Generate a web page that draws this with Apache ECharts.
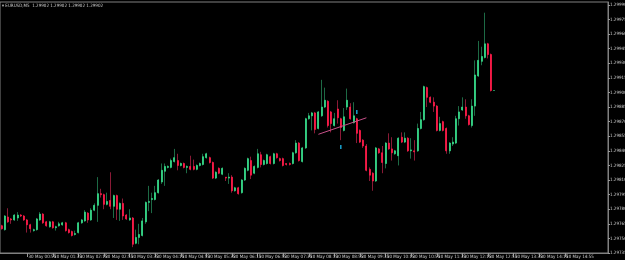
<!DOCTYPE html>
<html>
<head>
<meta charset="utf-8">
<script src="https://cdn.jsdelivr.net/npm/echarts@6/dist/echarts.min.js"></script>
<style>
  html, body { margin: 0; padding: 0; background: #000; }
  #chart { width: 625px; height: 260px; }
</style>
</head>
<body>
<div id="chart"></div>
<script>
// EURUSD M5, 30 May 2013 - bars from 00:15
var symbolName = 'EURUSD,M5'
var lastPrice = 1.29902
var startMinute = 15 // 00:15
var slotCount = 190 // bars that fit the window incl. empty space on the right

var opens = [1.29763,1.29759,1.29772,1.29770,1.29769,1.29771,1.29774,1.29773,1.29769,1.29764,
  1.29758,1.29759,1.29769,1.29775,1.29767,1.29762,1.29767,1.29761,1.29763,1.29764,
  1.29766,1.29759,1.29757,1.29754,1.29756,1.29766,1.29768,1.29776,1.29769,1.29779,
  1.29784,1.29796,1.29795,1.29785,1.29789,1.29783,1.29794,1.29780,1.29786,1.29774,
  1.29769,1.29771,1.29745,1.29751,1.29753,1.29767,1.29787,1.29790,1.29790,1.29797,
  1.29808,1.29819,1.29823,1.29823,1.29829,1.29830,1.29825,1.29827,1.29823,1.29824,
  1.29824,1.29821,1.29825,1.29826,1.29833,1.29833,1.29828,1.29812,1.29822,1.29816,
  1.29813,1.29812,1.29813,1.29799,1.29802,1.29797,1.29810,1.29820,1.29830,1.29817,
  1.29823,1.29836,1.29826,1.29827,1.29834,1.29827,1.29837,1.29832,1.29832,1.29827,
  1.29827,1.29827,1.29838,1.29848,1.29829,1.29843,1.29873,1.29876,1.29879,1.29863,
  1.29876,1.29885,1.29891,1.29880,1.29866,1.29883,1.29873,1.29861,1.29885,1.29885,
  1.29869,1.29873,1.29861,1.29851,1.29845,1.29821,1.29817,1.29809,1.29842,1.29838,
  1.29827,1.29848,1.29842,1.29837,1.29835,1.29854,1.29849,1.29853,1.29840,1.29840,
  1.29840,1.29863,1.29872,1.29905,1.29895,1.29890,1.29886,1.29861,1.29870,1.29863,
  1.29840,1.29847,1.29848,1.29873,1.29882,1.29885,1.29876,1.29866,1.29886,1.29917,
  1.29932,1.29936,1.29950,1.29939,1.29902]
var closes = [1.29760,1.29773,1.29767,1.29769,1.29774,1.29774,1.29773,1.29769,1.29764,1.29760,
  1.29759,1.29770,1.29775,1.29766,1.29763,1.29767,1.29761,1.29762,1.29765,1.29766,
  1.29758,1.29756,1.29753,1.29755,1.29766,1.29769,1.29777,1.29769,1.29779,1.29784,
  1.29796,1.29795,1.29785,1.29788,1.29783,1.29794,1.29780,1.29786,1.29773,1.29770,
  1.29771,1.29744,1.29751,1.29754,1.29768,1.29787,1.29788,1.29791,1.29797,1.29810,
  1.29820,1.29824,1.29824,1.29830,1.29833,1.29825,1.29827,1.29823,1.29824,1.29821,
  1.29821,1.29825,1.29827,1.29834,1.29837,1.29828,1.29812,1.29818,1.29817,1.29822,
  1.29812,1.29813,1.29799,1.29802,1.29796,1.29810,1.29822,1.29832,1.29815,1.29824,
  1.29837,1.29826,1.29830,1.29836,1.29827,1.29837,1.29833,1.29830,1.29825,1.29826,
  1.29826,1.29838,1.29848,1.29830,1.29843,1.29873,1.29876,1.29879,1.29862,1.29880,
  1.29885,1.29892,1.29866,1.29868,1.29873,1.29874,1.29864,1.29875,1.29892,1.29873,
  1.29876,1.29858,1.29849,1.29845,1.29820,1.29815,1.29809,1.29843,1.29838,1.29828,
  1.29848,1.29842,1.29838,1.29840,1.29853,1.29849,1.29853,1.29840,1.29841,1.29839,
  1.29863,1.29872,1.29906,1.29895,1.29890,1.29886,1.29861,1.29868,1.29861,1.29840,
  1.29848,1.29849,1.29873,1.29880,1.29885,1.29876,1.29867,1.29886,1.29918,1.29933,
  1.29937,1.29950,1.29939,1.29902,1.29902]
var highs = [1.29764,1.29774,1.29781,1.29771,1.29775,1.29777,1.29775,1.29774,1.29770,1.29765,
  1.29760,1.29771,1.29777,1.29776,1.29768,1.29768,1.29768,1.29763,1.29767,1.29767,
  1.29767,1.29760,1.29758,1.29758,1.29767,1.29770,1.29779,1.29777,1.29781,1.29786,
  1.29813,1.29801,1.29796,1.29797,1.29818,1.29795,1.29795,1.29787,1.29791,1.29775,
  1.29780,1.29772,1.29759,1.29765,1.29771,1.29788,1.29804,1.29797,1.29804,1.29811,
  1.29827,1.29827,1.29825,1.29832,1.29842,1.29837,1.29828,1.29828,1.29825,1.29835,
  1.29831,1.29826,1.29828,1.29837,1.29838,1.29834,1.29829,1.29819,1.29823,1.29823,
  1.29813,1.29817,1.29815,1.29803,1.29803,1.29811,1.29823,1.29833,1.29834,1.29825,
  1.29842,1.29839,1.29831,1.29837,1.29835,1.29838,1.29838,1.29833,1.29833,1.29827,
  1.29828,1.29839,1.29851,1.29849,1.29844,1.29874,1.29879,1.29880,1.29880,1.29881,
  1.29913,1.29905,1.29892,1.29881,1.29879,1.29892,1.29874,1.29884,1.29904,1.29889,
  1.29890,1.29874,1.29862,1.29852,1.29847,1.29823,1.29818,1.29844,1.29843,1.29845,
  1.29849,1.29858,1.29854,1.29841,1.29854,1.29859,1.29859,1.29854,1.29853,1.29851,
  1.29868,1.29880,1.29907,1.29906,1.29896,1.29895,1.29887,1.29875,1.29871,1.29864,
  1.29849,1.29854,1.29876,1.29886,1.29895,1.29893,1.29877,1.29893,1.29933,1.29953,
  1.29947,1.29982,1.29951,1.29940,1.29902]
var lows = [1.29759,1.29758,1.29766,1.29765,1.29768,1.29768,1.29772,1.29768,1.29756,1.29756,
  1.29757,1.29758,1.29768,1.29765,1.29762,1.29761,1.29760,1.29758,1.29762,1.29763,
  1.29757,1.29755,1.29752,1.29753,1.29755,1.29765,1.29767,1.29766,1.29768,1.29778,
  1.29767,1.29792,1.29780,1.29784,1.29780,1.29771,1.29769,1.29768,1.29769,1.29769,
  1.29768,1.29741,1.29744,1.29744,1.29752,1.29765,1.29778,1.29776,1.29789,1.29796,
  1.29806,1.29804,1.29822,1.29822,1.29828,1.29820,1.29824,1.29822,1.29817,1.29820,
  1.29820,1.29820,1.29824,1.29825,1.29832,1.29827,1.29811,1.29811,1.29816,1.29815,
  1.29809,1.29806,1.29797,1.29798,1.29795,1.29796,1.29809,1.29819,1.29811,1.29816,
  1.29822,1.29823,1.29825,1.29826,1.29826,1.29826,1.29832,1.29829,1.29824,1.29825,
  1.29825,1.29826,1.29837,1.29829,1.29828,1.29842,1.29872,1.29861,1.29858,1.29862,
  1.29875,1.29884,1.29864,1.29859,1.29865,1.29868,1.29851,1.29860,1.29882,1.29872,
  1.29868,1.29848,1.29848,1.29843,1.29819,1.29809,1.29799,1.29808,1.29837,1.29817,
  1.29822,1.29841,1.29830,1.29836,1.29825,1.29848,1.29848,1.29839,1.29832,1.29830,
  1.29839,1.29862,1.29871,1.29885,1.29889,1.29880,1.29860,1.29860,1.29860,1.29837,
  1.29837,1.29845,1.29847,1.29866,1.29881,1.29873,1.29866,1.29864,1.29876,1.29916,
  1.29928,1.29935,1.29935,1.29901,1.29902]

// trend line object (bar index, price)
var trendIdx = [99, 114]
var trendPrice = [1.29857, 1.29874]
// small cyan arrow objects
var arrowIdx = [106, 111]
var arrowPrice = [1.29844, 1.29880]

// price scale
var priceMin = 1.29735
var priceMax = 1.29993
var priceStep = 0.00015

function pad(n) { return n < 10 ? '0' + n : '' + n }

var cats = []
for (var i = 0; i < slotCount; i++) {
  var m = startMinute + i * 5
  cats.push(pad(Math.floor(m / 60) % 24) + ':' + pad(m % 60))
}

var wickData = []
var bodyData = []
for (var k = 0; k < opens.length; k++) {
  wickData.push([opens[k], closes[k], lows[k], highs[k]])
  bodyData.push([opens[k], closes[k], Math.min(opens[k], closes[k]), Math.max(opens[k], closes[k])])
}

var arrows = []
for (var a = 0; a < arrowIdx.length; a++) arrows.push([arrowIdx[a], arrowPrice[a]])

var green = '#36d888'
var red = '#ff1a48'
var txt = '#cfcfcf'
var tinyFont = '"Liberation Sans Narrow", "DejaVu Sans Condensed", "DejaVu Sans"'

var chart = echarts.init(document.getElementById('chart'), null, { renderer: 'canvas' })
var option = {
  backgroundColor: '#000',
  animation: false,
  title: {
    text: '\u25BE ' + symbolName + '  ' + [lastPrice, lastPrice, lastPrice, lastPrice].map(function(v) { return v.toFixed(5) }).join(' '),
    left: 2,
    top: 3,
    padding: 0,
    textStyle: { color: txt, fontSize: 4.5, fontWeight: 'normal', fontFamily: tinyFont }
  },
  grid: {
    left: 0,
    right: 17,
    top: 2,
    bottom: 7,
    containLabel: false,
    outerBoundsMode: 'none',
    show: true,
    borderColor: '#808080',
    borderWidth: 1,
    backgroundColor: 'transparent'
  },
  xAxis: {
    type: 'category',
    data: cats,
    boundaryGap: true,
    axisLine: { lineStyle: { color: '#808080' } },
    axisTick: { show: true, interval: 7, alignWithLabel: true, length: 4, lineStyle: { color: '#9a9a9a' } },
    axisLabel: {
      interval: 7,
      align: 'left',
      margin: 1,
      color: txt,
      fontSize: 4.5,
      fontFamily: tinyFont,
      hideOverlap: false,
      formatter: function(v, idx) { return idx === 0 ? ' 30 May 2013' : ' 30 May ' + v }
    },
    splitLine: { show: false }
  },
  yAxis: {
    type: 'value',
    position: 'right',
    min: priceMin,
    max: priceMax,
    interval: priceStep,
    axisLine: { show: true, lineStyle: { color: '#808080' } },
    axisTick: { show: true, length: 2, lineStyle: { color: '#9a9a9a' } },
    axisLabel: {
      margin: 2,
      color: txt,
      fontSize: 4.5,
      fontFamily: tinyFont,
      showMaxLabel: false,
      formatter: function(v) { return v.toFixed(5) }
    },
    splitLine: { show: false }
  },
  series: [
    {
      name: 'wick',
      type: 'candlestick',
      data: wickData,
      barWidth: 1,
      itemStyle: { color: '#1d6a45', color0: '#8a1a36', borderColor: '#1d6a45', borderColor0: '#8a1a36', borderColorDoji: '#1d6a45', borderWidth: 1 }
    },
    {
      name: 'body',
      type: 'candlestick',
      data: bodyData,
      barWidth: 1.6,
      itemStyle: { color: green, color0: red, borderColor: green, borderColor0: red, borderColorDoji: green, borderWidth: 0.8 },
      markLine: {
        silent: true,
        symbol: 'none',
        data: [
          [
            { coord: [trendIdx[0], trendPrice[0]], lineStyle: { color: '#c8508a', width: 1, type: 'solid' }, label: { show: false } },
            { coord: [trendIdx[1], trendPrice[1]] }
          ],
          {
            yAxis: lastPrice,
            lineStyle: { opacity: 0 },
            label: {
              show: true,
              position: 'end',
              distance: 0,
              formatter: lastPrice.toFixed(5),
              color: '#000',
              backgroundColor: '#fff',
              fontSize: 4.5,
              fontFamily: tinyFont,
              padding: [1, 1, 1, 2]
            }
          }
        ]
      }
    },
    {
      name: 'objects',
      type: 'scatter',
      data: arrows,
      symbol: 'rect',
      symbolSize: [1.5, 4],
      itemStyle: { color: '#1ec8ff' }
    }
  ]
}
chart.setOption(option)
</script>
</body>
</html>
